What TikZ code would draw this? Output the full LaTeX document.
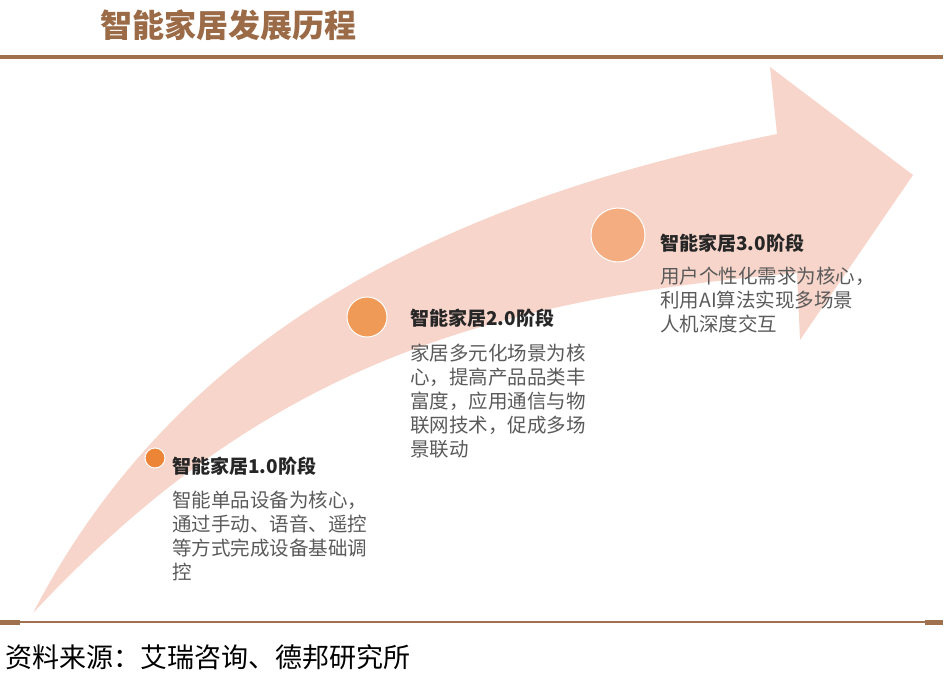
\documentclass[tikz,border=0pt]{standalone}
\usepackage{fontspec}
\newfontfamily\cjk{Noto Sans CJK SC}
\definecolor{arrowpink}{HTML}{F7D5CA}
\definecolor{dotone}{HTML}{EC8535}
\definecolor{dottwo}{HTML}{F09A58}
\definecolor{dotthree}{HTML}{F4AD80}
\definecolor{rulebrown}{HTML}{A0714F}
\definecolor{headbrown}{HTML}{9B6B47}
\definecolor{titlegray}{HTML}{262626}
\definecolor{bodygray}{HTML}{5A5A5A}
\begin{document}
\begin{tikzpicture}[x=1pt,y=-1pt,
  stagetitle/.style={anchor=base west, inner sep=0pt, font=\cjk\fontsize{19}{24}\selectfont\bfseries, text=titlegray},
  stagebody/.style={anchor=base west, inner sep=0pt, align=left, font=\cjk\fontsize{19.5}{24}\selectfont, text=bodygray},
  stagedot/.style={circle, draw=white, line width=1pt, inner sep=0pt}]
\useasboundingbox (0,0) rectangle (945,675);
% header
\node[anchor=west, inner sep=0pt, font=\cjk\fontsize{32}{36}\selectfont\bfseries, text=headbrown] (head) at (100,25) {智能家居发展历程};
\draw[line width=4pt, rulebrown] (0,57) -- (943,57);
% arrow
\fill[arrowpink] (33,613) .. controls (180,330) and (450,200) .. (777,134)
  -- (770,67) -- (913,175) -- (800,340) -- (797,273)
  .. controls (480,300) and (260,370) .. (33,613) -- cycle;
% dots
\node[stagedot, fill=dotone, minimum size=20pt] (d1) at (155,458) {};
\node[stagedot, fill=dottwo, minimum size=40pt] (d2) at (367,317) {};
\node[stagedot, fill=dotthree, minimum size=54pt] (d3) at (618,235) {};
% stage 1 (base anchor of multi-line text = last line)
\node[stagetitle] (t1) at (172,473) {智能家居1.0阶段};
\node[stagebody] (b1) at (172,579) {智能单品设备为核心，\\通过手动、语音、遥控\\等方式完成设备基础调\\控};
% stage 2
\node[stagetitle] (t2) at (410,325) {智能家居2.0阶段};
\node[stagebody] (b2) at (410,456) {家居多元化场景为核\\心，提高产品品类丰\\富度，应用通信与物\\联网技术，促成多场\\景联动};
% stage 3
\node[stagetitle] (t3) at (660,250) {智能家居3.0阶段};
\node[stagebody] (b3) at (660,331) {用户个性化需求为核心，\\利用AI算法实现多场景\\人机深度交互};
% footer
\draw[line width=2.5pt, rulebrown] (0,622) -- (943,622);
\fill[rulebrown] (0,619.5) rectangle (20,624.5);
\fill[rulebrown] (925,619.5) rectangle (943,624.5);
\node[anchor=west, inner sep=0pt, font=\cjk\fontsize{27}{30}\selectfont, text=black] (src) at (5,657) {资料来源：艾瑞咨询、德邦研究所};
\end{tikzpicture}
\end{document}
